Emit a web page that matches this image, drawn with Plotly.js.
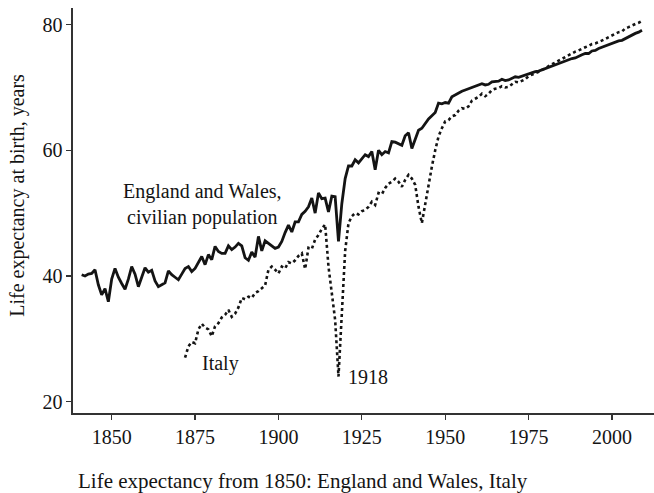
<!DOCTYPE html>
<html>
<head>
<meta charset="utf-8">
<script src="https://cdn.plot.ly/plotly-3.0.1.min.js"></script>
<style>html,body{margin:0;padding:0;background:#fff;}#chart{width:654px;height:493px;}</style>
</head>
<body>
<div id="chart"></div>
<script>
// England and Wales, civilian population: life expectancy at birth (years), 1841-2009
const ewStartYear = 1841;
const ewValues = [
  40.2, 40.0, 40.3, 40.4, 41.0, 38.6, 37.0, 38.0, 35.9, 39.5,   // 1841-1850
  41.2, 39.8, 38.8, 37.9, 39.5, 41.5, 40.3, 38.3, 39.8, 41.3,   // 1851-1860
  40.6, 40.9, 39.2, 38.3, 38.6, 38.9, 40.8, 40.2, 39.8, 39.4,   // 1861-1870
  40.3, 41.2, 41.5, 40.7, 41.2, 42.2, 43.1, 41.8, 43.4, 42.6,   // 1871-1880
  44.7, 43.9, 43.6, 43.6, 44.8, 44.2, 44.6, 45.2, 44.8, 42.9,   // 1881-1890
  42.5, 43.8, 43.0, 46.3, 44.0, 45.6, 45.2, 44.7, 44.4, 44.6,   // 1891-1900
  45.5, 46.9, 48.1, 47.0, 48.6, 48.6, 49.8, 50.3, 51.0, 52.4,   // 1901-1910
  50.0, 53.2, 52.3, 52.4, 50.2, 52.7, 52.6, 45.5, 51.5, 55.5,   // 1911-1920
  57.5, 57.5, 58.5, 58.0, 58.7, 59.3, 59.0, 59.8, 56.9, 60.0,   // 1921-1930
  59.3, 59.8, 59.6, 61.4, 61.3, 61.0, 60.8, 62.3, 62.8, 60.3,   // 1931-1940
  61.8, 63.2, 63.5, 64.2, 65.0, 65.5, 66.0, 67.5, 67.4, 67.6,   // 1941-1950
  67.5, 68.5, 68.8, 69.2, 69.4, 69.6, 69.8, 69.9, 70.2, 70.4,   // 1951-1960
  70.6, 70.4, 70.5, 70.9, 70.9, 71.0, 71.3, 71.1, 71.2, 71.5,   // 1961-1970
  71.7, 71.6, 71.8, 72.0, 72.1, 72.3, 72.5, 72.6, 72.8, 73.1,   // 1971-1980
  73.3, 73.5, 73.7, 73.8, 74.0, 74.2, 74.5, 74.6, 74.7, 75.0,   // 1981-1990
  75.2, 75.4, 75.4, 75.8, 75.9, 76.2, 76.4, 76.6, 76.8, 77.0,   // 1991-2000
  77.3, 77.4, 77.5, 77.8, 78.1, 78.3, 78.6, 78.8, 79.1          // 2001-2009
];

// Italy: life expectancy at birth (years), 1872-2009
const itStartYear = 1872;
const itValues = [
  27.0, 28.8, 29.5, 29.3, 31.5, 32.4, 31.8, 31.5, 30.4,         // 1872-1880
  32.0, 32.5, 33.4, 33.8, 34.6, 33.5, 34.0, 35.0, 36.5, 36.3,   // 1881-1890
  36.7, 36.5, 37.3, 37.6, 38.0, 38.5, 41.0, 41.5, 41.0, 40.4,   // 1891-1900
  41.5, 41.2, 42.2, 42.0, 42.5, 43.2, 43.6, 41.1, 44.5, 44.3,   // 1901-1910
  45.8, 46.5, 47.5, 48.2, 41.5, 36.8, 33.0, 24.0, 35.0, 44.0,   // 1911-1920
  48.4, 49.5, 50.0, 49.8, 50.3, 50.5, 51.0, 51.8, 51.3, 53.2,   // 1921-1930
  53.0, 54.0, 54.7, 55.0, 55.5, 55.0, 54.2, 55.3, 56.1, 55.5,   // 1931-1940
  54.5, 51.0, 48.4, 51.5, 54.5, 57.4, 60.0, 62.2, 63.5, 64.6,   // 1941-1950
  64.8, 65.4, 65.6, 66.3, 66.7, 66.6, 67.0, 67.9, 68.2, 68.5,   // 1951-1960
  69.0, 68.6, 69.0, 69.6, 69.8, 69.9, 70.2, 70.0, 70.1, 70.5,   // 1961-1970
  70.9, 70.8, 71.0, 71.3, 71.8, 72.0, 72.3, 72.5, 72.8, 73.0,   // 1971-1980
  73.4, 73.7, 73.9, 74.2, 74.5, 74.8, 75.1, 75.4, 75.7, 75.9,   // 1981-1990
  76.2, 76.4, 76.6, 76.9, 77.0, 77.2, 77.5, 77.7, 78.0, 78.3,   // 1991-2000
  78.6, 78.8, 78.9, 79.4, 79.6, 79.9, 80.1, 80.3, 80.6          // 2001-2009
];

const xTickVals = [1850, 1875, 1900, 1925, 1950, 1975, 2000];
const yTickVals = [20, 40, 60, 80];

const ewYears = ewValues.map((_, i) => ewStartYear + i);
const itYears = itValues.map((_, i) => itStartYear + i);

const ink = '#141414';
const serif = '"Liberation Serif", "Times New Roman", serif';

const traces = [
  { x: itYears, y: itValues, type: 'scatter', mode: 'lines', name: 'Italy',
    line: { color: ink, width: 2.6, dash: 'dot' }, hoverinfo: 'x+y' },
  { x: ewYears, y: ewValues, type: 'scatter', mode: 'lines', name: 'England and Wales',
    line: { color: ink, width: 2.8 }, hoverinfo: 'x+y' }
];

const layout = {
  width: 654, height: 493,
  margin: { l: 73, r: 0, t: 8, b: 80 },
  paper_bgcolor: '#ffffff', plot_bgcolor: '#ffffff',
  showlegend: false,
  font: { family: serif, color: ink, size: 20 },
  xaxis: {
    range: [1838.4, 2012.6], tickvals: xTickVals, ticks: 'outside', ticklen: 5, tickwidth: 1.3,
    tickcolor: '#333', showline: true, linecolor: '#333', linewidth: 1.6, showgrid: false,
    zeroline: false, tickfont: { family: serif, size: 20, color: ink }
  },
  yaxis: {
    range: [18.2, 82.64], tickvals: yTickVals, ticks: 'outside', ticklen: 5, tickwidth: 1.3,
    tickcolor: '#333', showline: true, linecolor: '#333', linewidth: 1.6, showgrid: false,
    zeroline: false, tickfont: { family: serif, size: 20, color: ink }
  },
  annotations: [
    { text: 'England and Wales,<br>civilian population', x: 1877.3, y: 51.3, xref: 'x', yref: 'y',
      xanchor: 'center', yanchor: 'middle',
      showarrow: false, font: { family: serif, size: 20, color: ink }, align: 'center' },
    { text: 'Italy', x: 1882.7, y: 26.1, xref: 'x', yref: 'y', showarrow: false,
      xanchor: 'center', yanchor: 'middle', font: { family: serif, size: 20, color: ink } },
    { text: '1918', x: 1926.8, y: 23.9, xref: 'x', yref: 'y', showarrow: false,
      xanchor: 'center', yanchor: 'middle', font: { family: serif, size: 20, color: ink } },
    { text: 'Life expectancy at birth, years', x: -0.097, y: 0.538, xref: 'paper', yref: 'paper',
      xanchor: 'center', yanchor: 'middle',
      textangle: -90, showarrow: false, font: { family: serif, size: 20, color: ink } },
    { text: 'Life expectancy from 1850: England and Wales, Italy', x: 0.396, y: -0.168,
      xref: 'paper', yref: 'paper', xanchor: 'center', yanchor: 'middle',
      showarrow: false, font: { family: serif, size: 21, color: ink } }
  ]
};

Plotly.newPlot('chart', traces, layout, { staticPlot: true, displayModeBar: false });
</script>
</body>
</html>
